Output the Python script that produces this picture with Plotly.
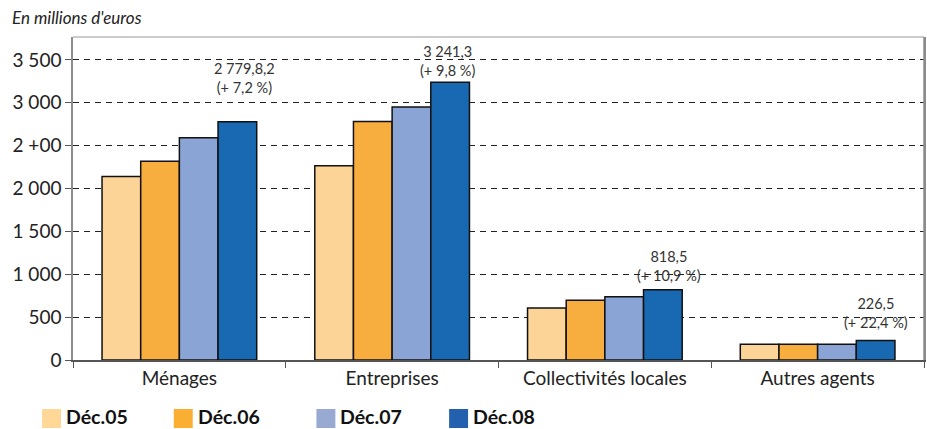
import plotly.graph_objects as go

# Encours par agent économique (en millions d'euros)
categories = ["Ménages", "Entreprises", "Collectivités locales", "Autres agents"]
series_names = ["Déc.05", "Déc.06", "Déc.07", "Déc.08"]
dec05 = [2140, 2267, 606, 185]
dec06 = [2320, 2781, 696, 185]
dec07 = [2593, 2952, 738, 185]
dec08 = [2779.8, 3241.3, 818.5, 226.5]
value_labels = ["2 779,8,2", "3 241,3", "818,5", "226,5"]
growth_labels = ["(+ 7,2 %)", "(+ 9,8 %)", "(+ 10,9 %)", "(+ 22,4 %)"]
tick_values = [0, 500, 1000, 1500, 2000, 2500, 3000, 3500]
tick_labels = ["0", "500", "1 000", "1 500", "2 000", "2 +00", "3 000", "3 500"]

colors = ["#FDD497", "#F8AD3F", "#8AA5D5", "#1969B2"]
legend_colors = ["#FFD898", "#FBAF32", "#98A9D2", "#2360AD"]
FONT = "Lato"
W, H = 927, 429
ML, MR, MT, MB = 73, 1, 37, 69
PW, PH = W - ML - MR, H - MT - MB
Y_MAX = 3768
BARGAP = 0.273


def px_x(px):
    """Page pixel column -> paper x."""
    return (px - ML) / PW


def px_y(py):
    """Page pixel row -> paper y."""
    return (H - MB - py) / PH


fig = go.Figure()
all_series = [dec05, dec06, dec07, dec08]
for name, vals, col in zip(series_names, all_series, colors):
    fig.add_trace(go.Bar(
        x=categories, y=vals, name=name, showlegend=False,
        marker=dict(color=col, line=dict(color="#111111", width=1.5)),
    ))

# value + growth labels over the Déc.08 bars
label_dx = [7, -3, 6, 0]
label_dy = [44, 21, 24, 28]
bar_w = (1 - BARGAP) / len(series_names)
last_offset = -(1 - BARGAP) / 2 + bar_w * (len(series_names) - 0.5)
for i, (v, a, b) in enumerate(zip(dec08, value_labels, growth_labels)):
    fig.add_annotation(
        x=i + last_offset, y=v, xref="x", yref="y",
        text=f"{a}<br>{b}", showarrow=False,
        xshift=label_dx[i], yshift=label_dy[i], yanchor="middle",
        font=dict(family=FONT, size=14.5, color="#333333"),
    )

# unit caption
fig.add_annotation(
    x=px_x(10), y=px_y(18), xref="paper", yref="paper",
    text="<i>En millions d'euros</i>", showarrow=False,
    xanchor="left", yanchor="middle",
    font=dict(family=FONT, size=17, color="#222222"),
)

# legend row: coloured squares followed by bold labels
legend_left = [42, 174, 317, 450]
for left, name, col in zip(legend_left, series_names, legend_colors):
    fig.add_shape(
        type="rect", xref="paper", yref="paper",
        x0=px_x(left), x1=px_x(left + 19), y0=px_y(428), y1=px_y(409),
        fillcolor=col, line=dict(width=0),
    )
    fig.add_annotation(
        x=px_x(left + 23), y=px_y(416.5), xref="paper", yref="paper",
        text=f"<b>{name}</b>", showarrow=False,
        xanchor="left", yanchor="middle", borderpad=0,
        font=dict(family=FONT, size=19.5, color="#111111"),
    )

fig.update_layout(
    width=W, height=H,
    margin=dict(l=ML, r=MR, t=MT, b=MB),
    paper_bgcolor="white", plot_bgcolor="white",
    barmode="group", bargap=BARGAP, bargroupgap=0,
    font=dict(family=FONT, color="#222222"),
    showlegend=False,
)
fig.update_xaxes(
    type="category", range=[-0.5, 3.5],
    showline=True, linecolor="#555555", linewidth=1.5, mirror=False,
    ticks="outside", tickson="boundaries", ticklen=6, tickcolor="#555555",
    tickfont=dict(family=FONT, size=19, color="#222222"),
    showgrid=False,
)
fig.update_yaxes(
    range=[0, Y_MAX], tickvals=tick_values, ticktext=tick_labels,
    showline=True, linecolor="#8C8C8C", linewidth=1.5, mirror=True,
    ticks="outside", ticklen=6, tickcolor="#555555",
    tickfont=dict(family=FONT, size=19, color="#222222"),
    showgrid=True, gridcolor="#222222", gridwidth=1, griddash="6px,5px",
    zeroline=False,
)
# top and right border of the plot area
fig.add_shape(type="line", xref="paper", yref="paper", x0=0, x1=1, y0=1, y1=1,
              line=dict(color="#BBBBBB", width=1.5))
fig.add_shape(type="line", xref="paper", yref="paper", x0=1, x1=1, y0=0, y1=1,
              line=dict(color="#8C8C8C", width=1.5))

fig.write_html("out.html")
